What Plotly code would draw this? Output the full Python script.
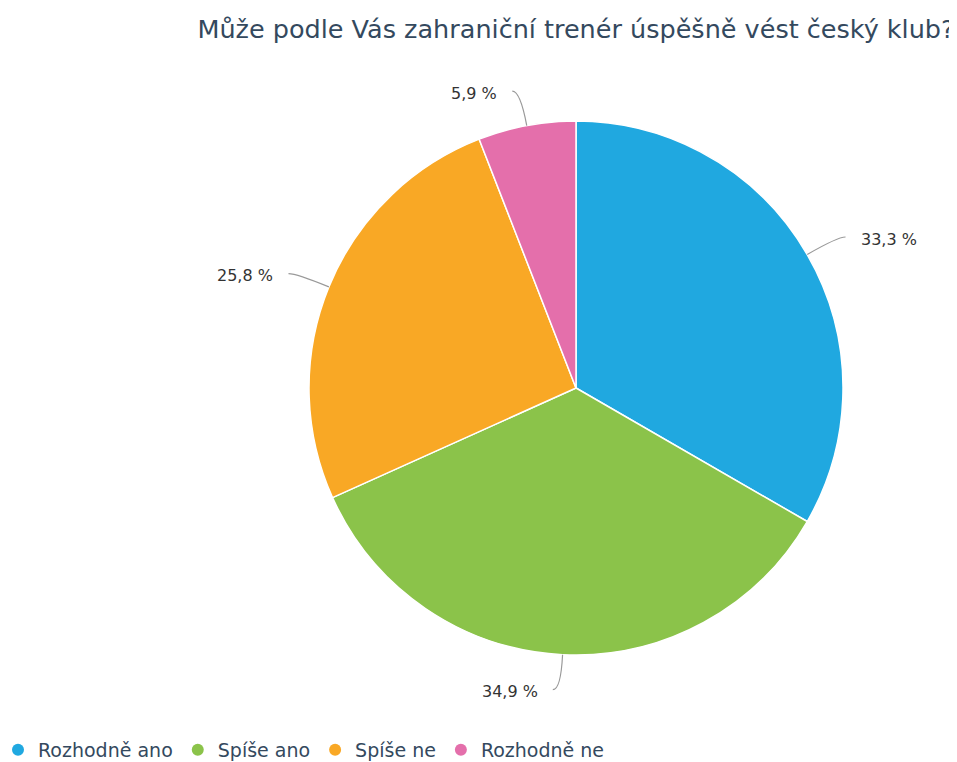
import math
import plotly.graph_objects as go

title = "Může podle Vás zahraniční trenér úspěšně vést český klub?"
categories = ["Rozhodně ano", "Spíše ano", "Spíše ne", "Rozhodně ne"]
values = [33.3, 34.9, 25.8, 5.9]
value_labels = ["33,3 %", "34,9 %", "25,8 %", "5,9 %"]
colors = ["#20a8e0", "#8bc34a", "#f9a825", "#e46fab"]

W, H = 957, 762
OFF = 8  # page offset of the figure in the screenshot
ML, MR, MT, MB = 20, 20, 20, 45
PW, PH = W - ML - MR, H - MT - MB
CX, CY, R = 576 - OFF, 388 - OFF, 267
FONT = "DejaVu Sans"


def px(x, y):
    return (x - ML) / PW, (H - MB - y) / PH


fig = go.Figure()
fig.add_trace(go.Pie(
    labels=categories, values=values, sort=False, direction="clockwise",
    rotation=0, marker=dict(colors=colors, line=dict(color="white", width=1.5)),
    textinfo="none", hoverinfo="label+percent", showlegend=False,
    domain=dict(x=[px(CX - R, 0)[0], px(CX + R, 0)[0]],
                y=[px(0, CY + R)[1], px(0, CY - R)[1]]),
))

# legend entries (circle markers)
for c, col in zip(categories, colors):
    fig.add_trace(go.Scatter(x=[None], y=[None], mode="markers", name=c,
                             marker=dict(color=col, size=12, symbol="circle")))

total = sum(values)
cum = 0
shapes, annos = [], []
for v, lab in zip(values, value_labels):
    mid = (cum + v / 2) / total * 2 * math.pi
    cum += v
    s, c = math.sin(mid), math.cos(mid)
    ex, ey = CX + R * s, CY - R * c
    pxx, pyy = CX + (R + 35) * s, CY - (R + 35) * c
    side = 1 if s >= 0 else -1
    lx = pxx + side * 8
    x0, y0 = px(ex, ey); x1, y1 = px(pxx, pyy); x2, y2 = px(lx, pyy)
    shapes.append(dict(type="path", xref="paper", yref="paper",
                       path=f"M {x0},{y0} Q {x1},{y1} {x2},{y2}",
                       line=dict(color="#999999", width=1.2)))
    tx, ty = px(pxx + side * 21, pyy + 2)
    annos.append(dict(x=tx, y=ty, xref="paper", yref="paper", text=lab,
                      showarrow=False, xanchor="left" if side > 0 else "right",
                      yanchor="middle", font=dict(size=16, color="#333333", family=FONT)))

lx0, ly0 = px(-10, 750 - OFF)
fig.update_layout(
    width=W, height=H,
    margin=dict(l=ML, r=MR, t=MT, b=MB, autoexpand=False),
    paper_bgcolor="white", plot_bgcolor="white",
    title=dict(text=title, x=px(CX, 0)[0], xanchor="center", y=1 - (29 - OFF) / H,
               yanchor="middle", xref="paper", yref="container",
               font=dict(size=25.5, color="#34495e", family=FONT)),
    xaxis=dict(visible=False), yaxis=dict(visible=False),
    legend=dict(orientation="h", x=lx0, xanchor="left", y=ly0, yanchor="middle",
                font=dict(size=19, color="#34495e", family=FONT)),
    shapes=shapes, annotations=annos,
)
fig.write_html("out.html")
